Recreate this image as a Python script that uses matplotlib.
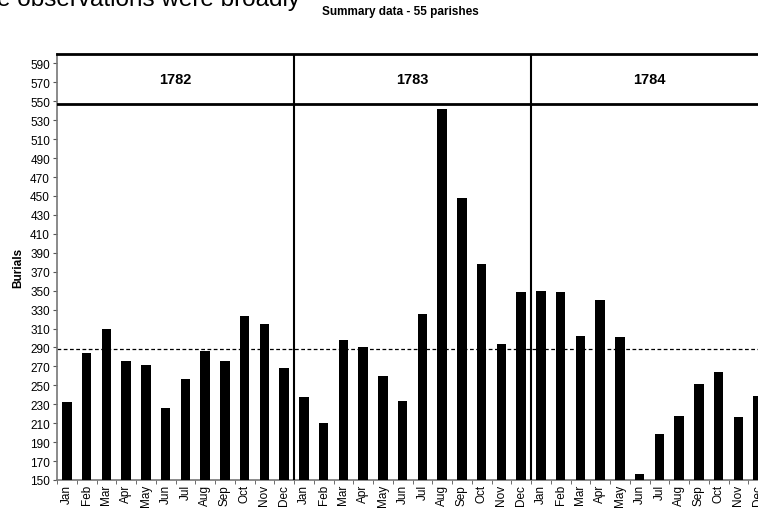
import numpy as np
import matplotlib.pyplot as plt
from matplotlib import font_manager

# -----------------------------
# Monthly burials, 55 parishes
# -----------------------------

years = ["1782", "1783", "1784"]
months = ["Jan", "Feb", "Mar", "Apr", "May", "Jun",
          "Jul", "Aug", "Sep", "Oct", "Nov", "Dec"]

burials_1782 = [232, 284, 310, 276, 271, 226, 257, 286, 276, 323, 315, 268]
burials_1783 = [238, 210, 298, 291, 260, 233, 325, 542, 448, 378, 294, 349]
burials_1784 = [350, 349, 302, 340, 301, 156, 199, 218, 251, 264, 217, 239]

mean_level = 288

burials = burials_1782 + burials_1783 + burials_1784
labels = months * 3
x = np.arange(len(burials))

names = {f.name for f in font_manager.fontManager.ttflist}
narrow = "Liberation Sans Narrow" if "Liberation Sans Narrow" in names else "Liberation Sans"
plt.rcParams["font.family"] = [narrow, "DejaVu Sans"]

fig = plt.figure(figsize=(7.58, 5.10), dpi=100)
ax = fig.add_axes([57 / 758, 29 / 510, 711 / 758, 426 / 510])

ax.bar(x, burials, width=0.47, color="black", zorder=3)
ax.axhline(mean_level, color="black", lw=0.9, ls=(0, (3, 2)), zorder=2)

ax.set_xlim(-0.5, len(burials) - 0.5)
ax.set_ylim(150, 600)

# header band with the year names
header_bottom = 547
ax.axhline(header_bottom, color="black", lw=2, zorder=4)
for k in range(1, len(years)):
    ax.axvline(12 * k - 0.5, color="black", lw=1.5, zorder=4)
for k, year in enumerate(years):
    ax.text(12 * k + 5.5, (header_bottom + 600) / 2, year, ha="center", va="center",
            fontsize=10.5, fontweight="bold", family=["Liberation Sans", "DejaVu Sans"])

ax.set_yticks(np.arange(150, 591, 20))
ax.tick_params(axis="y", labelsize=8.5, length=3, direction="out", color="#555555", pad=2)
ax.set_xticks(x)
ax.set_xticklabels(labels, rotation=90, fontsize=8.5)
ax.tick_params(axis="x", which="major", length=0, pad=3)
ax.set_xticks(np.arange(-0.5, len(burials), 1), minor=True)
ax.tick_params(axis="x", which="minor", length=3, color="#555555")

ax.spines["top"].set_linewidth(2)
ax.spines["right"].set_linewidth(2)
ax.spines["left"].set_color("#777777")
ax.spines["bottom"].set_color("#777777")
ax.spines["left"].set_linewidth(1.2)
ax.spines["bottom"].set_linewidth(1.2)

ax.set_ylabel("Burials", fontsize=8.5, fontweight="bold", labelpad=4)

fig.text(400 / 758, 1 - 12 / 510, "Summary data - 55 parishes", ha="center", va="center",
         fontsize=8.5, fontweight="bold")
fig.text(-0.004, 1 - 6 / 510, "e observations were broadly", ha="left", va="baseline",
         fontsize=17.5, family=["Liberation Sans", "DejaVu Sans"])

fig.savefig("out.png", dpi=100)
